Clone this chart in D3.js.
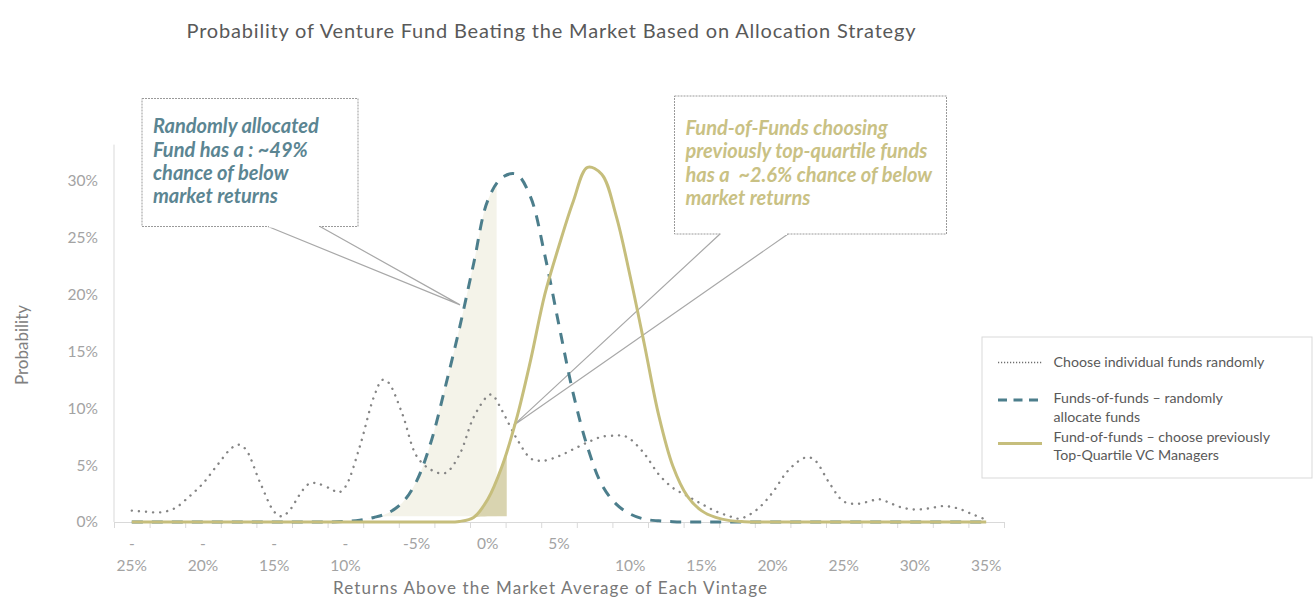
<!DOCTYPE html>
<html><head><meta charset="utf-8">
<script src="https://cdn.jsdelivr.net/npm/d3@7"></script>
<style>
body{margin:0;background:#fff;}
svg{display:block;font-family:Lato,"Open Sans",sans-serif;}
text{white-space:pre;}
</style>
</head><body>
<svg id="chart" width="1316" height="600"></svg>
<script>
// ---------------- DATA ----------------
const returnPoints = [-25,-24,-23,-22,-21,-20,-19,-18,-17,-16,-15,-14,-13,-12,-11,-10,-9,-8,-7,-6,-5,-4,-3,-2,-1,0,1,2,3,4,5,6,7,8,9,10,11,12,13,14,15,16,17,18,19,20,21,22,23,24,25,26,27,28,29,30,31,32,33,34,35];

// Funds-of-funds – randomly allocate funds (%), one value per returnPoints entry
const fofRandom = [0,0,0,0,0,0,0,0,0,0,0,0,0,0,0,
  0.05,0.15,0.4,0.8,1.7,3.6,7.0,11.8,17.0,22.7,28.3,30.3,30.6,28.6,23.5,17.3,11.3,6.6,3.3,1.6,0.7,0.25,0.1,0.03,
  0,0,0,0,0,0,0,0,0,0,0,0,0,0,0,0,0,0,0,0,0,0];

// Fund-of-funds – choose previously Top-Quartile VC Managers (%)
const fofTopQuartile = [0,0,0,0,0,0,0,0,0,0,0,0,0,0,0,0,0,0,0,0,0,0,0,
  0.05,0.4,2.0,4.9,9.0,14.2,20.0,24.3,28.2,31.2,30.6,27.0,21.6,15.6,9.4,4.9,2.3,1.0,0.4,0.12,0.03,
  0,0,0,0,0,0,0,0,0,0,0,0,0,0,0,0,0];

// Choose individual funds randomly (%)
const individualX = [-25,-24,-23,-22,-21,-20,-19,-18,-17.5,-17,-16,-15,-14.5,-14,-13,-12.5,-12,-11,-10.5,-10,-9,-8,-7.4,-7,-6,-5,-4,-3,-2,-1,0,0.3,1,2,3,3.5,4,5,6,7,8,9,9.5,10,11,12,13,14,15,16,17,17.5,18,19,20,21,22,22.5,23,24,25,26,27,27.5,28,29,30,31,32,33,34,35];
const individualY = [1.0,0.9,0.85,1.2,2.2,3.4,5.0,6.5,6.8,6.4,3.5,0.9,0.5,0.9,2.8,3.4,3.4,2.9,2.6,3.1,6.6,11.0,12.5,12.3,9.5,5.8,4.6,4.3,5.9,9.2,11.1,11.2,9.8,7.4,5.6,5.4,5.4,5.8,6.4,7.0,7.5,7.6,7.6,7.3,6.0,4.2,3.0,2.3,1.6,0.95,0.5,0.3,0.4,1.2,2.6,4.4,5.5,5.7,5.4,3.4,1.8,1.6,1.9,2.0,1.8,1.3,1.1,1.2,1.4,1.2,0.7,0.2];

// Shaded ranges (below-market share)
const shadeRandomRange = [-8.4, 0.62];
const shadeTopRange = [-3, 1.33];
const shadeBase = 0.5;

// Axis ticks
const yTicks = [0,5,10,15,20,25,30];
const xLabelValues = [-25,-20,-15,-10,-5,0,5,10,15,20,25,30,35];
const xLabelLines = [["-","25%"],["-","20%"],["-","15%"],["-","10%"],["-5%",""],["0%",""],["5%",""],["","10%"],["","15%"],["","20%"],["","25%"],["","30%"],["","35%"]];
const xTickBoundaries = [-26.25,-23.75,-21.25,-18.75,-16.25,-13.75,-11.25,-8.75,-6.25,-3.75,-1.25,1.25,3.75,6.25,8.75,11.25,13.75,16.25,18.75,21.25,23.75,26.25,28.75,31.25,33.75,36.25];

// Texts
const titleText = "Probability of Venture Fund Beating the Market Based on Allocation Strategy";
const xTitle = "Returns Above the Market Average of Each Vintage";
const yTitle = "Probability";
const legendLabels = [["Choose individual funds randomly"],["Funds-of-funds – randomly","allocate funds"],["Fund-of-funds – choose previously","Top-Quartile VC Managers"]];
const calloutRandomLines = ["Randomly allocated","Fund has a : ~49%","chance of below","market returns"];
const calloutTopLines = ["Fund-of-Funds choosing","previously top-quartile funds","has a  ~2.6% chance of below","market returns"];
const calloutRandomAnchor = [-1.95, 19.1];
const calloutTopAnchor = [1.8, 8.5];

// ---------------- STYLE ----------------
const teal = "#4c7e8c", gold = "#c6be7c", dotGray = "#858585";
const svg = d3.select("#chart");
const x = d3.scaleLinear().domain([-26.25, 36.25]).range([114, 1004]);
const y = d3.scaleLinear().domain([0, 30]).range([522, 181]);

// Title
svg.append("text").attr("x", 551).attr("y", 38).attr("text-anchor","middle")
  .attr("font-size", 20).attr("fill", "#595959").attr("textLength", 729).attr("lengthAdjust","spacing").text(titleText);

// Callouts (drawn first)
function callout(box, baseXs, anchor, lines, color, baseline){
  const g = svg.append("g");
  const tip = [x(anchor[0]), y(anchor[1])];
  g.append("rect").attr("x", box[0]).attr("y", box[1]).attr("width", box[2]).attr("height", box[3])
    .attr("fill","#fff").attr("stroke","#9a9a9a").attr("stroke-width",1).attr("stroke-dasharray","2 1");
  const by = box[1]+box[3];
  g.append("path").attr("d", `M${baseXs[0]},${by}L${tip[0]},${tip[1]}L${baseXs[1]},${by}`)
    .attr("fill","none").attr("stroke","#a8a8a8").attr("stroke-width",1.2);
  g.append("line").attr("x1", baseXs[0]+1).attr("x2", baseXs[1]-1).attr("y1", by).attr("y2", by)
    .attr("stroke","#fff").attr("stroke-width",2);
  lines.forEach((t,i)=>{
    g.append("text").attr("x", box[0]+11).attr("y", baseline + i*23.3)
      .attr("font-size", 20).attr("font-weight","bold").attr("font-style","italic")
      .attr("fill", color).text(t);
  });
}
callout([142, 98.5, 216, 128], [268, 320], calloutRandomAnchor, calloutRandomLines, "#5b8592", 133.3);
callout([674.5, 96, 272, 138], [720, 788], calloutTopAnchor, calloutTopLines, "#c9c184", 135);

// Shading
const defs = svg.append("defs");
defs.append("clipPath").attr("id","clipR").append("rect")
  .attr("x", x(shadeRandomRange[0])).attr("width", x(shadeRandomRange[1]) - x(shadeRandomRange[0]))
  .attr("y", 0).attr("height", 600);
defs.append("clipPath").attr("id","clipT").append("rect")
  .attr("x", x(shadeTopRange[0])).attr("width", x(shadeTopRange[1]) - x(shadeTopRange[0]))
  .attr("y", 0).attr("height", 600);

const area = d3.area().curve(d3.curveCatmullRom)
  .x((d,i)=>x(returnPoints[i])).y1(d=>y(d)).y0(d=>y(Math.min(shadeBase, d)));
svg.append("path").datum(fofRandom).attr("d", area).attr("fill","#f4f3e9").attr("clip-path","url(#clipR)");
svg.append("path").datum(fofTopQuartile).attr("d", area).attr("fill","#d9d4b0").attr("clip-path","url(#clipT)");

// Axes
const xAxis = d3.axisBottom(x).tickValues(xTickBoundaries).tickFormat("").tickSize(6).tickSizeOuter(0);
const gx = svg.append("g").attr("transform","translate(0,522)").call(xAxis);
gx.selectAll("path,line").attr("stroke","#d9d9d9");

svg.append("line").attr("x1",114).attr("x2",114).attr("y1",y(0)).attr("y2",y(33.2)).attr("stroke","#d9d9d9");
const yAxis = d3.axisLeft(y).tickValues(yTicks).tickSize(0).tickPadding(16).tickFormat(d=>d+"%");
const gy = svg.append("g").attr("transform","translate(114,0)").call(yAxis);
gy.select(".domain").remove();
gy.selectAll("text").attr("font-size",15.5).attr("fill","#a3a3a3").attr("font-family","Lato,sans-serif");

xLabelValues.forEach((v,i)=>{
  const [l1,l2] = xLabelLines[i];
  if(l1) svg.append("text").attr("x", x(v)).attr("y", 549).attr("text-anchor","middle")
    .attr("font-size",15.5).attr("fill","#a3a3a3").text(l1);
  if(l2) svg.append("text").attr("x", x(v)).attr("y", 570.5).attr("text-anchor","middle")
    .attr("font-size",15.5).attr("fill","#a3a3a3").text(l2);
});

svg.append("text").attr("x", 550).attr("y", 594).attr("text-anchor","middle")
  .attr("font-size",17).attr("fill","#787878").attr("textLength",434).attr("lengthAdjust","spacing").text(xTitle);
svg.append("text").attr("transform","translate(28,345) rotate(-90)").attr("text-anchor","middle")
  .attr("font-size",17).attr("fill","#808080").text(yTitle);

// Lines
const lineCat = d3.line().curve(d3.curveCatmullRom).x((d,i)=>x(returnPoints[i])).y(d=>y(d));
svg.append("path").datum(individualY)
  .attr("d", d3.line().curve(d3.curveCatmullRom).x((d,i)=>x(individualX[i])).y(d=>y(d)))
  .attr("fill","none").attr("stroke",dotGray).attr("stroke-width",2.4)
  .attr("stroke-linecap","round").attr("stroke-dasharray","0.1 7");
svg.append("path").datum(fofRandom).attr("d", lineCat)
  .attr("fill","none").attr("stroke",teal).attr("stroke-width",3).attr("stroke-dasharray","11 9");
svg.append("path").datum(fofTopQuartile).attr("d", lineCat)
  .attr("fill","none").attr("stroke",gold).attr("stroke-width",3);

// Legend
const lg = svg.append("g");
lg.append("rect").attr("x",982).attr("y",337).attr("width",330).attr("height",141)
  .attr("fill","#fff").attr("stroke","#d9d9d9");
const legendStyles = [
  {y:362.5, stroke:"#6e6e6e", w:1.6, dash:"1.2 1.8"},
  {y:400, stroke:teal, w:2.8, dash:"9 6.5"},
  {y:443.5, stroke:gold, w:2.8, dash:null}
];
const legendTextY = [[367],[403,421.5],[441.5,460]];
legendStyles.forEach((s,i)=>{
  const ln = lg.append("line").attr("x1",998).attr("x2",1042).attr("y1",s.y).attr("y2",s.y)
    .attr("stroke",s.stroke).attr("stroke-width",s.w);
  if(s.dash) ln.attr("stroke-dasharray", s.dash);
  legendLabels[i].forEach((t,j)=>{
    lg.append("text").attr("x",1053.5).attr("y",legendTextY[i][j]).attr("font-size",14.2)
      .attr("fill","#595959").text(t);
  });
});
</script>
</body></html>
